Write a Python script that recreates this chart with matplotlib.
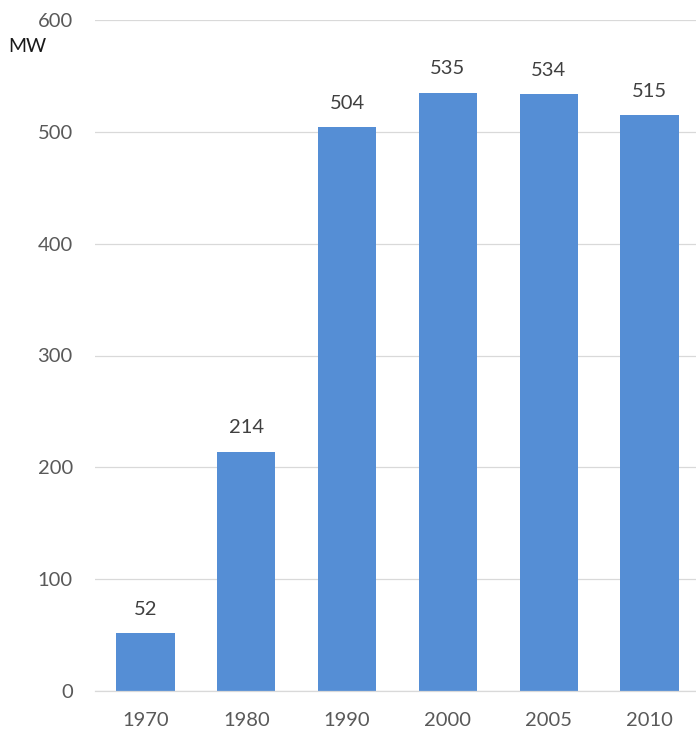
import matplotlib
matplotlib.use("Agg")
import matplotlib.pyplot as plt

# installed capacity by year
years = ["1970", "1980", "1990", "2000", "2005", "2010"]
capacity_mw = [52, 214, 504, 535, 534, 515]

plt.rcParams['font.family'] = ['Lato', 'DejaVu Sans']

fig = plt.figure(figsize=(6.96, 7.34), dpi=100)
ax = fig.add_axes([95 / 696, 43 / 734, 605 / 696, 671 / 734])

x = list(range(len(years)))
bars = ax.bar(x, capacity_mw, width=0.58, color='#558ED5', zorder=3)

for b, v in zip(bars, capacity_mw):
    ax.annotate(str(v), (b.get_x() + b.get_width() / 2, v),
                xytext=(0, 11), textcoords='offset points',
                ha='center', va='bottom', fontsize=14.5, color='#404040')

ax.set_ylim(0, 600)
ax.set_xlim(-0.5, 5.5)
ax.set_yticks(range(0, 601, 100))
ax.set_xticks(x)
ax.set_xticklabels(years)

ax.grid(axis='y', color='#D9D9D9', linewidth=0.9, zorder=0)
for s in ['top', 'right', 'left']:
    ax.spines[s].set_visible(False)
ax.spines['bottom'].set_color('#D9D9D9')
ax.spines['bottom'].set_linewidth(0.9)
ax.spines['bottom'].set_zorder(4)

ax.tick_params(axis='y', length=0, pad=16, labelsize=14.5, labelcolor='#595959')
ax.tick_params(axis='x', length=0, pad=15, labelsize=14.5, labelcolor='#595959')

fig.text(8 / 696, 1 - 47 / 734, "MW", ha='left', va='center',
         fontsize=14, color='#1a1a1a')

fig.savefig("out.png", dpi=100)
